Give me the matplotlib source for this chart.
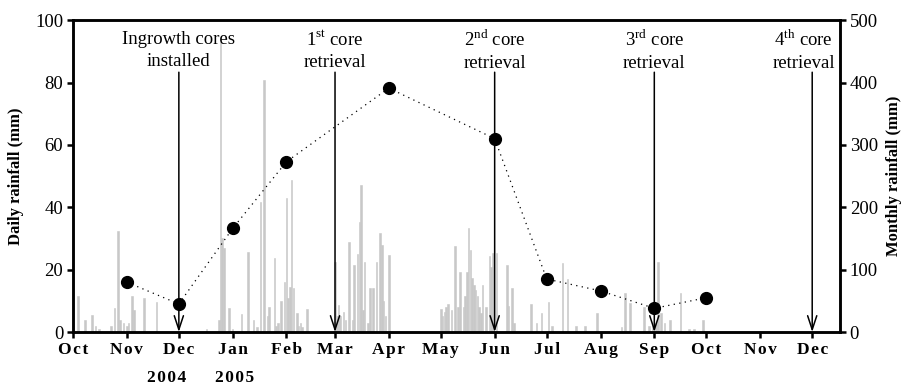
import numpy as np
import pandas as pd
from matplotlib import pyplot as plt

plt.rcParams['font.family'] = ['Liberation Serif', 'DejaVu Serif']
plt.rcParams['mathtext.fontset'] = 'custom'
plt.rcParams['mathtext.rm'] = 'Liberation Serif'

start = pd.Timestamp('2004-10-01')

# daily rainfall: day number counted from 1 Oct 2004, and mm
rain_day = [3, 7, 11, 13, 15, 22, 24, 26, 27, 29, 31, 32, 34, 35, 41, 48,
            77, 84, 85, 86, 87, 90, 92, 97, 101, 104, 106, 108, 110, 112, 113,
            116, 117, 118, 120, 122, 123, 124, 125, 126, 127, 129, 130, 131, 132, 135,
            151, 152, 153, 154, 156, 157, 159, 161, 162, 164, 165, 166, 167, 168,
            170, 171, 173, 175, 177, 178, 179, 180, 182,
            212, 213, 214, 215, 216, 218, 220, 222, 223, 225, 226, 227, 228, 229, 230,
            231, 232, 233, 234, 235, 236, 238, 240, 241, 242, 244,
            250, 251, 253, 254, 264, 267, 270, 274, 276, 282, 285, 290, 295,
            302, 316, 318, 321, 329, 332, 334, 336, 337, 339, 341, 344,
            350, 355, 358, 363]
rain_mm = [11.5, 3.8, 5.4, 2.0, 1.0, 2.0, 7.7, 32.4, 4.0, 3.0, 2.0, 3.0, 11.5, 7.0, 11.0, 9.5,
           1.0, 4.0, 93.0, 30.0, 27.0, 7.7, 1.0, 5.7, 25.7, 4.0, 1.5, 41.8, 80.8, 5.0, 8.0,
           23.8, 2.0, 3.0, 10.0, 16.0, 43.0, 11.0, 14.5, 48.7, 14.0, 6.0, 2.0, 3.0, 1.5, 7.5,
           22.5, 5.0, 8.6, 5.0, 6.5, 4.0, 29.0, 4.0, 21.5, 25.0, 35.4, 47.3, 7.0, 22.5,
           3.0, 14.0, 14.0, 22.5, 31.6, 28.0, 10.0, 5.0, 24.7,
           7.4, 5.0, 6.4, 8.0, 9.0, 7.0, 27.5, 8.0, 19.3, 8.0, 11.5, 19.4, 33.2, 26.3, 17.3,
           15.0, 13.5, 11.5, 8.0, 6.0, 15.0, 8.0, 24.3, 21.0, 25.5, 25.5,
           21.5, 8.5, 14.0, 3.0, 9.1, 3.0, 6.0, 9.5, 2.0, 22.2, 16.9, 2.0, 2.0,
           6.2, 1.5, 12.4, 9.2, 8.1, 2.0, 2.0, 3.0, 22.5, 6.0, 3.0, 4.0,
           12.4, 1.0, 1.0, 4.0]

# monthly totals (mm), plotted at the first day of each month
month_date = ['2004-11-01', '2004-12-01', '2005-01-01', '2005-02-01', '2005-04-01',
              '2005-06-01', '2005-07-01', '2005-08-01', '2005-09-01', '2005-10-01']
month_mm = [80, 45, 166, 273, 391, 310, 85, 66, 38, 55]

# sampling events
event_date = ['2004-12-01', '2005-03-01', '2005-06-01', '2005-09-01', '2005-12-01']
event_text = ['Ingrowth cores\ninstalled',
              '1$^{\\rm st}$ core\nretrieval',
              '2$^{\\rm nd}$ core\nretrieval',
              '3$^{\\rm rd}$ core\nretrieval',
              '4$^{\\rm th}$ core\nretrieval']

tick_dates = pd.date_range('2004-10-01', '2005-12-01', freq='MS')
tick_x = [(d - start).days for d in tick_dates]
tick_lab = ['\u200a'.join(d.strftime('%b')) for d in tick_dates]

month_x = [(pd.Timestamp(d) - start).days for d in month_date]
event_x = [(pd.Timestamp(d) - start).days for d in event_date]

fig = plt.figure(figsize=(9.16, 3.87), dpi=100)
ax = fig.add_axes([0.0797, 0.142, 0.8373, 0.806])
ax2 = ax.twinx()

ax.bar(rain_day, rain_mm, width=0.9, color='#c8c8c8', edgecolor='#c8c8c8', linewidth=0.4)
ax2.plot(month_x, month_mm, color='black', linestyle=(0, (1, 3.5)), linewidth=0.9,
         marker='o', markersize=8.5, markerfacecolor='black', markeredgecolor='black')

for x, txt in zip(event_x, event_text):
    ax2.annotate('', xy=(x, 0), xytext=(x, 83.3), xycoords=ax.transData,
                 textcoords=ax.transData,
                 arrowprops=dict(arrowstyle='->,head_length=1.0,head_width=0.33',
                                 color='black', lw=1.1, shrinkA=0, shrinkB=0),
                 fontsize=10)
    tx = x if x < 420 else 421
    ax2.text(tx, 90.2, txt, transform=ax.transData, ha='center', va='center',
             fontsize=13.5, linespacing=1.35)

ax.set_xlim(0, 442)
ax.set_ylim(0, 100)
ax2.set_ylim(0, 500)
ax.set_xticks(tick_x)
ax.set_xticklabels(tick_lab, fontweight='bold', fontsize=12.5)
ax.set_yticks(range(0, 101, 20))
ax2.set_yticks(range(0, 501, 100))
ax.set_ylabel('Daily rainfall (mm)', fontweight='bold', fontsize=12, labelpad=8)
ax2.set_ylabel('Monthly rainfall (mm)', fontweight='bold', fontsize=12, labelpad=6)

for a in (ax, ax2):
    for s in a.spines.values():
        s.set_linewidth(1.8)
    a.tick_params(direction='out', length=4, width=1.8, labelsize=13.5, pad=3)
ax.tick_params(axis='x', labelsize=12.5)

# years under the Dec / Jan labels
for d, yr, dx in [('2004-12-01', '2004', -7), ('2005-01-01', '2005', 1)]:
    ax.text((pd.Timestamp(d) - start).days + dx, -14.8, '\u200a'.join(yr),
            ha='center', va='center', fontweight='bold', fontsize=12.5)

plt.savefig('out.png', dpi=100)
